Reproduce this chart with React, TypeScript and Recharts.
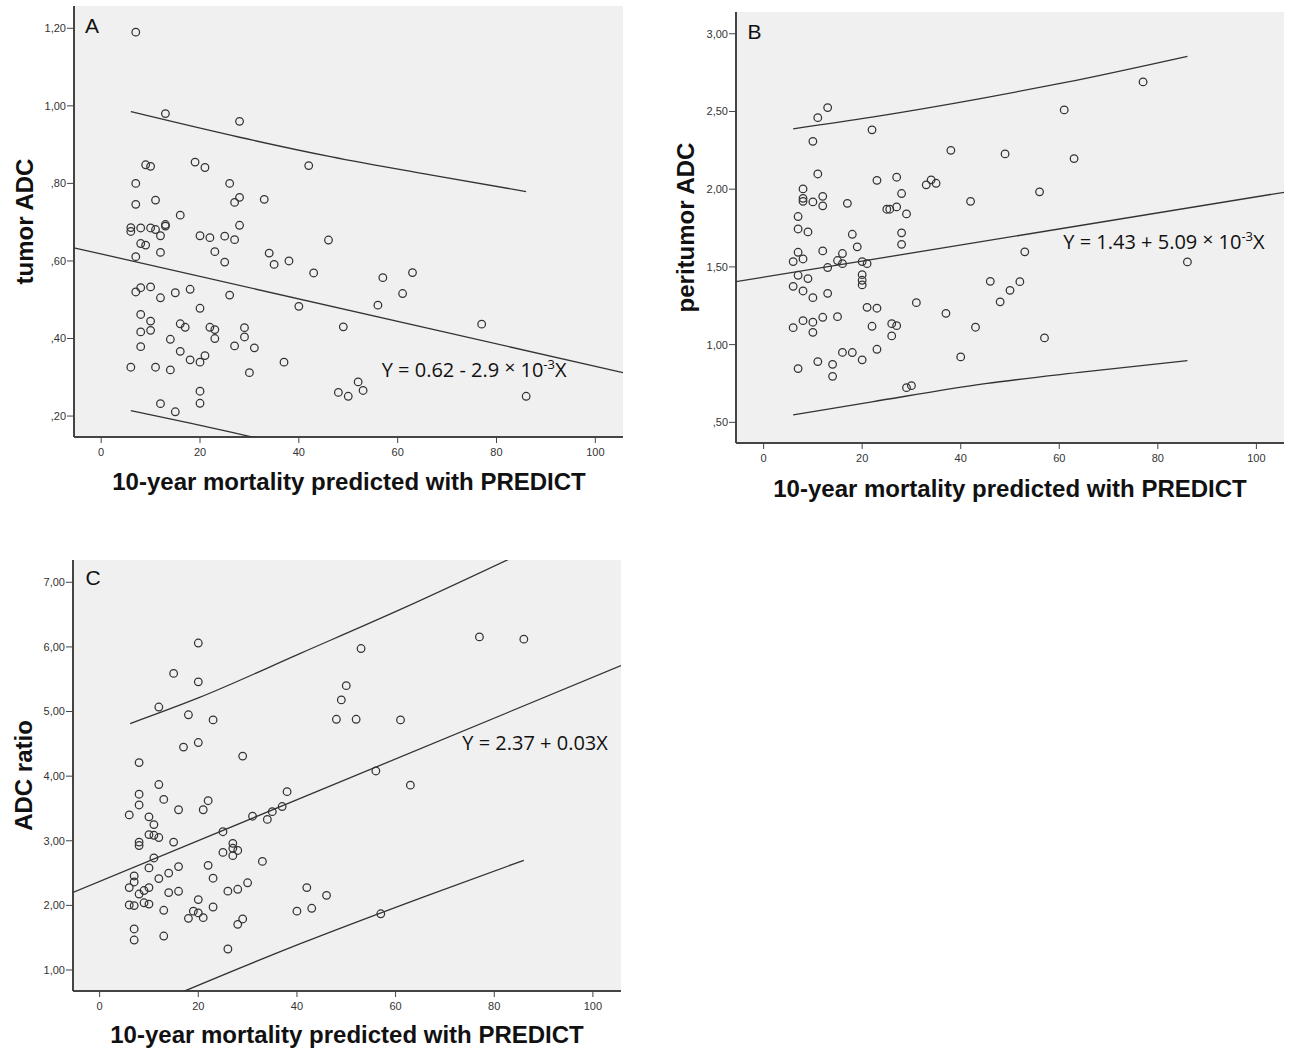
import React from "react";
import { ScatterChart, Scatter, XAxis, YAxis, CartesianGrid } from "recharts";

type Pt = { x: number; y: number };

// tick values
const xTicks = [0, 20, 40, 60, 80, 100];
const tumorTicks = [0.2, 0.4, 0.6, 0.8, 1.0, 1.2];
const peritumorTicks = [0.5, 1.0, 1.5, 2.0, 2.5, 3.0];
const ratioTicks = [1, 2, 3, 4, 5, 6, 7];

// axis ranges (SPSS pads a little past the data)
const tumorXDomain = [-5.5, 105.6];
const tumorYDomain = [0.146, 1.2575];
const peritumorXDomain = [-5.6, 105.6];
const peritumorYDomain = [0.367, 3.14];
const ratioXDomain = [-5.4, 105.7];
const ratioYDomain = [0.675, 7.345];

// A: tumor ADC
const tumorPoints: Pt[] = [
  { x: 7, y: 1.19 }, { x: 13, y: 0.98 }, { x: 28, y: 0.96 }, { x: 9, y: 0.848 },
  { x: 10, y: 0.844 }, { x: 19, y: 0.855 }, { x: 21, y: 0.841 }, { x: 42, y: 0.846 },
  { x: 7, y: 0.8 }, { x: 26, y: 0.8 }, { x: 7, y: 0.746 }, { x: 11, y: 0.757 },
  { x: 27, y: 0.751 }, { x: 28, y: 0.764 }, { x: 33, y: 0.759 }, { x: 16, y: 0.718 },
  { x: 6, y: 0.686 }, { x: 6, y: 0.676 }, { x: 8, y: 0.685 }, { x: 10, y: 0.685 },
  { x: 11, y: 0.681 }, { x: 13, y: 0.694 }, { x: 13, y: 0.69 }, { x: 12, y: 0.665 },
  { x: 28, y: 0.692 }, { x: 20, y: 0.665 }, { x: 22, y: 0.66 }, { x: 25, y: 0.664 },
  { x: 27, y: 0.655 }, { x: 46, y: 0.654 }, { x: 8, y: 0.645 }, { x: 9, y: 0.641 },
  { x: 12, y: 0.622 }, { x: 7, y: 0.611 }, { x: 23, y: 0.624 }, { x: 25, y: 0.597 },
  { x: 34, y: 0.62 }, { x: 35, y: 0.591 }, { x: 38, y: 0.6 }, { x: 43, y: 0.569 },
  { x: 7, y: 0.52 }, { x: 8, y: 0.531 }, { x: 10, y: 0.533 }, { x: 12, y: 0.505 },
  { x: 15, y: 0.518 }, { x: 18, y: 0.527 }, { x: 26, y: 0.512 }, { x: 20, y: 0.478 },
  { x: 40, y: 0.483 }, { x: 8, y: 0.462 }, { x: 10, y: 0.445 }, { x: 10, y: 0.421 },
  { x: 8, y: 0.417 }, { x: 16, y: 0.438 }, { x: 17, y: 0.429 }, { x: 22, y: 0.429 },
  { x: 23, y: 0.423 }, { x: 29, y: 0.428 }, { x: 29, y: 0.404 }, { x: 23, y: 0.4 },
  { x: 14, y: 0.398 }, { x: 8, y: 0.379 }, { x: 27, y: 0.381 }, { x: 31, y: 0.376 },
  { x: 16, y: 0.367 }, { x: 21, y: 0.356 }, { x: 18, y: 0.345 }, { x: 20, y: 0.339 },
  { x: 37, y: 0.339 }, { x: 6, y: 0.326 }, { x: 11, y: 0.326 }, { x: 14, y: 0.319 },
  { x: 30, y: 0.312 }, { x: 20, y: 0.264 }, { x: 20, y: 0.233 }, { x: 12, y: 0.232 },
  { x: 15, y: 0.211 }, { x: 49, y: 0.43 }, { x: 48, y: 0.261 }, { x: 50, y: 0.251 },
  { x: 57, y: 0.557 }, { x: 63, y: 0.57 }, { x: 61, y: 0.516 }, { x: 56, y: 0.486 },
  { x: 77, y: 0.437 }, { x: 52, y: 0.288 }, { x: 53, y: 0.266 }, { x: 86, y: 0.251 },
];
const tumorFit: Pt[] = [{ x: -5.5, y: 0.634 }, { x: 105.6, y: 0.312 }];
const tumorUpper: Pt[] = [
  { x: 6, y: 0.985 }, { x: 28, y: 0.919 }, { x: 46.4, y: 0.869 }, { x: 66.6, y: 0.822 }, { x: 86, y: 0.779 },
];
const tumorLower: Pt[] = [
  { x: 6, y: 0.214 }, { x: 18, y: 0.182 }, { x: 30.2, y: 0.147 }, { x: 50, y: 0.09 }, { x: 86, y: -0.04 },
];

// B: peritumor ADC
const peritumorPoints: Pt[] = [
  { x: 13, y: 2.525 }, { x: 11, y: 2.46 }, { x: 22, y: 2.382 }, { x: 10, y: 2.308 },
  { x: 38, y: 2.25 }, { x: 11, y: 2.098 }, { x: 23, y: 2.057 }, { x: 27, y: 2.077 },
  { x: 33, y: 2.028 }, { x: 34, y: 2.06 }, { x: 35, y: 2.038 }, { x: 8, y: 2.002 },
  { x: 8, y: 1.941 }, { x: 8, y: 1.922 }, { x: 10, y: 1.918 }, { x: 12, y: 1.954 },
  { x: 12, y: 1.893 }, { x: 17, y: 1.909 }, { x: 25, y: 1.871 }, { x: 25.6, y: 1.871 },
  { x: 27, y: 1.886 }, { x: 28, y: 1.972 }, { x: 29, y: 1.841 }, { x: 42, y: 1.922 },
  { x: 7, y: 1.824 }, { x: 7, y: 1.744 }, { x: 9, y: 1.725 }, { x: 18, y: 1.71 },
  { x: 28, y: 1.719 }, { x: 28, y: 1.645 }, { x: 19, y: 1.629 }, { x: 7, y: 1.594 },
  { x: 12, y: 1.603 }, { x: 16, y: 1.586 }, { x: 6, y: 1.534 }, { x: 8, y: 1.551 },
  { x: 15, y: 1.541 }, { x: 16, y: 1.521 }, { x: 20, y: 1.534 }, { x: 21, y: 1.521 },
  { x: 13, y: 1.496 }, { x: 7, y: 1.446 }, { x: 9, y: 1.425 }, { x: 20, y: 1.45 },
  { x: 20, y: 1.414 }, { x: 20, y: 1.384 }, { x: 6, y: 1.375 }, { x: 8, y: 1.345 },
  { x: 13, y: 1.33 }, { x: 10, y: 1.302 }, { x: 31, y: 1.27 }, { x: 21, y: 1.24 },
  { x: 23, y: 1.234 }, { x: 37, y: 1.201 }, { x: 12, y: 1.176 }, { x: 15, y: 1.18 },
  { x: 8, y: 1.154 }, { x: 10, y: 1.144 }, { x: 6, y: 1.109 }, { x: 10, y: 1.079 },
  { x: 22, y: 1.118 }, { x: 26, y: 1.135 }, { x: 27, y: 1.122 }, { x: 26, y: 1.056 },
  { x: 43, y: 1.112 }, { x: 23, y: 0.97 }, { x: 16, y: 0.95 }, { x: 18, y: 0.949 },
  { x: 20, y: 0.902 }, { x: 40, y: 0.921 }, { x: 11, y: 0.891 }, { x: 14, y: 0.873 },
  { x: 7, y: 0.846 }, { x: 14, y: 0.796 }, { x: 29, y: 0.723 }, { x: 30, y: 0.736 },
  { x: 46, y: 1.407 }, { x: 48, y: 1.275 }, { x: 77, y: 2.69 }, { x: 61, y: 2.51 },
  { x: 49, y: 2.227 }, { x: 63, y: 2.197 }, { x: 56, y: 1.983 }, { x: 53, y: 1.597 },
  { x: 86, y: 1.532 }, { x: 52, y: 1.405 }, { x: 50, y: 1.349 }, { x: 57, y: 1.043 },
];
const peritumorFit: Pt[] = [{ x: -5.6, y: 1.405 }, { x: 105.6, y: 1.98 }];
const peritumorUpper: Pt[] = [
  { x: 6, y: 2.388 }, { x: 22, y: 2.463 }, { x: 44, y: 2.582 }, { x: 61, y: 2.685 }, { x: 86, y: 2.855 },
];
const peritumorLower: Pt[] = [
  { x: 6, y: 0.548 }, { x: 22, y: 0.632 }, { x: 45, y: 0.749 }, { x: 65, y: 0.824 }, { x: 86, y: 0.897 },
];

// C: ADC ratio
const ratioPoints: Pt[] = [
  { x: 20, y: 6.06 }, { x: 15, y: 5.59 }, { x: 20, y: 5.46 }, { x: 12, y: 5.07 },
  { x: 18, y: 4.95 }, { x: 23, y: 4.87 }, { x: 20, y: 4.52 }, { x: 17, y: 4.45 },
  { x: 8, y: 4.21 }, { x: 29, y: 4.31 }, { x: 12, y: 3.87 }, { x: 38, y: 3.76 },
  { x: 53, y: 5.975 }, { x: 77, y: 6.155 }, { x: 86, y: 6.12 }, { x: 50, y: 5.4 },
  { x: 49, y: 5.18 }, { x: 48, y: 4.88 }, { x: 52, y: 4.88 }, { x: 61, y: 4.87 },
  { x: 56, y: 4.08 }, { x: 63, y: 3.86 }, { x: 8, y: 3.72 }, { x: 8, y: 3.554 },
  { x: 13, y: 3.64 }, { x: 16, y: 3.48 }, { x: 21, y: 3.48 }, { x: 22, y: 3.62 },
  { x: 37, y: 3.53 }, { x: 35, y: 3.45 }, { x: 34, y: 3.33 }, { x: 31, y: 3.38 },
  { x: 6, y: 3.4 }, { x: 10, y: 3.37 }, { x: 11, y: 3.25 }, { x: 10, y: 3.096 },
  { x: 11, y: 3.085 }, { x: 12, y: 3.05 }, { x: 8, y: 2.98 }, { x: 8, y: 2.926 },
  { x: 15, y: 2.98 }, { x: 25, y: 3.14 }, { x: 27, y: 2.96 }, { x: 27, y: 2.884 },
  { x: 28, y: 2.85 }, { x: 25, y: 2.82 }, { x: 27, y: 2.77 }, { x: 11, y: 2.734 },
  { x: 33, y: 2.68 }, { x: 7, y: 2.455 }, { x: 7, y: 2.362 }, { x: 16, y: 2.6 },
  { x: 22, y: 2.62 }, { x: 10, y: 2.58 }, { x: 14, y: 2.5 }, { x: 12, y: 2.415 },
  { x: 23, y: 2.42 }, { x: 6, y: 2.275 }, { x: 10, y: 2.275 }, { x: 9, y: 2.23 },
  { x: 8, y: 2.176 }, { x: 14, y: 2.198 }, { x: 16, y: 2.218 }, { x: 26, y: 2.22 },
  { x: 28, y: 2.249 }, { x: 30, y: 2.35 }, { x: 6, y: 2.006 }, { x: 7, y: 1.997 },
  { x: 9, y: 2.04 }, { x: 10, y: 2.02 }, { x: 20, y: 2.09 }, { x: 13, y: 1.924 },
  { x: 19, y: 1.91 }, { x: 20, y: 1.883 }, { x: 18, y: 1.8 }, { x: 21, y: 1.81 },
  { x: 23, y: 1.975 }, { x: 29, y: 1.79 }, { x: 28, y: 1.707 }, { x: 7, y: 1.635 },
  { x: 7, y: 1.464 }, { x: 13, y: 1.526 }, { x: 26, y: 1.325 }, { x: 40, y: 1.91 },
  { x: 43, y: 1.955 }, { x: 42, y: 2.275 }, { x: 46, y: 2.156 }, { x: 57, y: 1.87 },
];
const ratioFit: Pt[] = [{ x: -5.4, y: 2.2 }, { x: 105.7, y: 5.71 }];
const ratioUpper: Pt[] = [
  { x: 6.2, y: 4.814 }, { x: 20, y: 5.21 }, { x: 40.7, y: 5.9 }, { x: 61, y: 6.58 }, { x: 86, y: 7.466 },
];
const ratioLower: Pt[] = [
  { x: 6, y: 0.31 }, { x: 17.4, y: 0.68 }, { x: 40.7, y: 1.407 }, { x: 66, y: 2.14 }, { x: 86, y: 2.698 },
];

const ink = "#333";
const tickFont = { fontSize: 11, fill: "#333", fontFamily: "'Liberation Sans', Arial, sans-serif" };
const spssNumber = (v: number) => v.toFixed(2).replace(".", ",").replace(/^0/, "");

const Ring = (props: any) => (
  <circle cx={props.cx} cy={props.cy} r={3.8} fill="none" stroke={ink} strokeWidth={1.25} />
);
const NoDot = () => <g />;

interface PanelProps {
  left: number;
  top: number;
  width: number;
  height: number;
  margin: { top: number; right: number; bottom: number; left: number };
  xDomain: number[];
  yDomain: number[];
  yTicks: number[];
  points: Pt[];
  fit: Pt[];
  upper: Pt[];
  lower: Pt[];
}

function Panel({ left, top, width, height, margin, xDomain, yDomain, yTicks, points, fit, upper, lower }: PanelProps) {
  const lineStyle = { stroke: ink, strokeWidth: 1.3 };
  return (
    <div style={{ position: "absolute", left, top }}>
      <ScatterChart width={width} height={height} margin={margin}>
        <CartesianGrid fill="#f0f0f0" horizontal={false} vertical={false} />
        <XAxis
          type="number"
          dataKey="x"
          domain={xDomain}
          ticks={xTicks}
          interval={0}
          allowDataOverflow
          height={30}
          tickSize={6}
          tickMargin={5}
          tick={tickFont}
          axisLine={{ stroke: "#444", strokeWidth: 2 }}
          tickLine={{ stroke: "#444" }}
        />
        <YAxis
          type="number"
          dataKey="y"
          domain={yDomain}
          ticks={yTicks}
          interval={0}
          allowDataOverflow
          width={60}
          tickSize={7}
          tickMargin={1}
          tick={tickFont}
          tickFormatter={spssNumber}
          axisLine={{ stroke: "#444", strokeWidth: 2 }}
          tickLine={{ stroke: "#444" }}
        />
        <XAxis
          xAxisId="top"
          orientation="top"
          type="number"
          domain={xDomain}
          allowDataOverflow
          height={0}
          tick={false}
          tickLine={false}
          axisLine={{ stroke: "#777", strokeWidth: 1.5 }}
        />
        <YAxis
          yAxisId="right"
          orientation="right"
          type="number"
          domain={yDomain}
          allowDataOverflow
          width={0}
          tick={false}
          tickLine={false}
          axisLine={{ stroke: "#777", strokeWidth: 1.5 }}
        />
        <Scatter data={upper} line={lineStyle} lineJointType="monotoneX" shape={NoDot} isAnimationActive={false} />
        <Scatter data={lower} line={lineStyle} lineJointType="monotoneX" shape={NoDot} isAnimationActive={false} />
        <Scatter data={fit} line={lineStyle} shape={NoDot} isAnimationActive={false} />
        <Scatter data={points} shape={Ring} isAnimationActive={false} />
      </ScatterChart>
    </div>
  );
}

const titleFont = "'Liberation Sans', Arial, sans-serif";
const eqFont = "'Open Sans', 'Noto Sans', sans-serif";

function Equation({ x, y, head, tail }: { x: number; y: number; head: string; tail?: boolean }) {
  return (
    <text x={x} y={y} fontFamily={eqFont} fontSize={20} fill="#111">
      {head}
      {tail && (
        <>
          <tspan fontSize={19} dy={-3}>×</tspan>
          <tspan fontSize={20} dy={3}> 10</tspan>
          <tspan fontSize={13} dy={-8}>-3</tspan>
          <tspan fontSize={20} dy={8}>X</tspan>
        </>
      )}
    </text>
  );
}

export default function App() {
  const xTitle = "10-year mortality predicted with PREDICT";
  return (
    <div style={{ position: "absolute", left: 0, top: 0, width: 1290, height: 1050, background: "#fff" }}>
      <Panel
        left={0}
        top={0}
        width={640}
        height={500}
        margin={{ top: 6, right: 17, bottom: 33, left: 14 }}
        xDomain={tumorXDomain}
        yDomain={tumorYDomain}
        yTicks={tumorTicks}
        points={tumorPoints}
        fit={tumorFit}
        upper={tumorUpper}
        lower={tumorLower}
      />
      <Panel
        left={676}
        top={0}
        width={614}
        height={500}
        margin={{ top: 12, right: 6, bottom: 27, left: 0 }}
        xDomain={peritumorXDomain}
        yDomain={peritumorYDomain}
        yTicks={peritumorTicks}
        points={peritumorPoints}
        fit={peritumorFit}
        upper={peritumorUpper}
        lower={peritumorLower}
      />
      <Panel
        left={0}
        top={540}
        width={640}
        height={500}
        margin={{ top: 20, right: 19, bottom: 19, left: 13 }}
        xDomain={ratioXDomain}
        yDomain={ratioYDomain}
        yTicks={ratioTicks}
        points={ratioPoints}
        fit={ratioFit}
        upper={ratioUpper}
        lower={ratioLower}
      />
      <svg width={1290} height={1050} style={{ position: "absolute", left: 0, top: 0, pointerEvents: "none" }}>
        <g fontFamily={titleFont} fill="#111">
          <text x={85} y={33} fontSize={21}>A</text>
          <text x={747.5} y={39.3} fontSize={21}>B</text>
          <text x={85.5} y={585} fontSize={21}>C</text>
        </g>
        <g fontFamily={titleFont} fontWeight="bold" fontSize={24} fill="#111" textAnchor="middle">
          <text x={349} y={490}>{xTitle}</text>
          <text x={1010} y={496.7}>{xTitle}</text>
          <text x={347} y={1043}>{xTitle}</text>
          <text transform="translate(32.5,221.5) rotate(-90)">tumor ADC</text>
          <text transform="translate(693.5,227.5) rotate(-90)">peritumor ADC</text>
          <text transform="translate(31.7,775.5) rotate(-90)">ADC ratio</text>
        </g>
        <Equation x={381.7} y={376.7} head="Y = 0.62 - 2.9 " tail />
        <Equation x={1063.3} y={249.3} head="Y = 1.43 + 5.09 " tail />
        <Equation x={462.3} y={750} head="Y = 2.37 + 0.03X" />
      </svg>
    </div>
  );
}
